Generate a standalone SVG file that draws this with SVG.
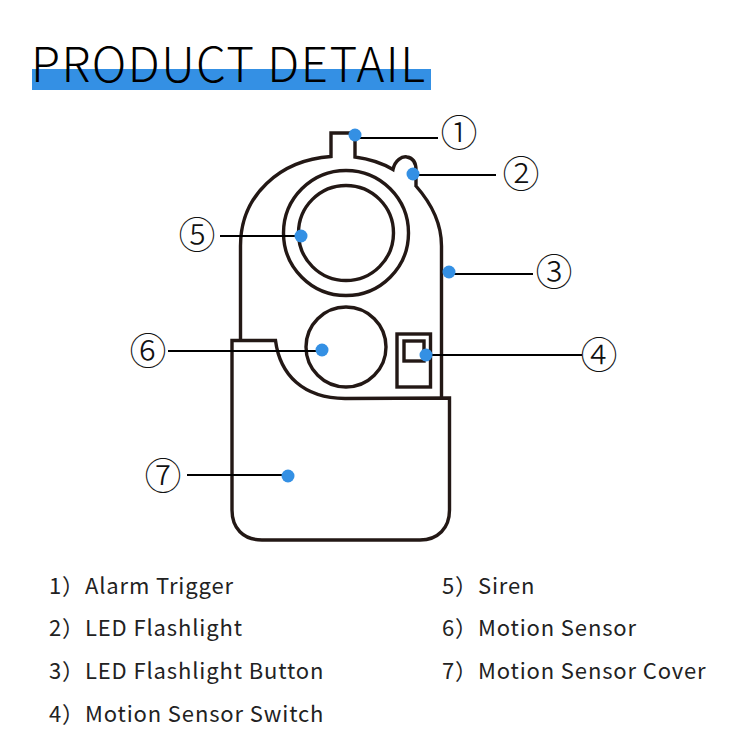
<svg xmlns="http://www.w3.org/2000/svg" width="750" height="750" viewBox="0 0 750 750">
<style>
.o{fill:none;stroke:#231815;stroke-width:3.4}
.c{fill:none;stroke:#000;stroke-width:2}
.d{fill:#3490e4}
.n{font-family:"Noto Sans CJK SC","Noto Sans",sans-serif;font-size:37px;font-weight:300;text-anchor:middle;fill:#111}
.l{font-family:"Noto Sans CJK SC","Noto Sans",sans-serif;font-size:22px;fill:#222;letter-spacing:.87px}
.t{font-family:"Noto Sans CJK SC","Noto Sans",sans-serif;font-size:47.500px;font-weight:300;fill:#000}
</style>
<rect width="750" height="750" fill="#fff"/>
<g id="title"><rect x="32" y="69" width="399" height="21" fill="#3490e4"/><text class="t" x="31" y="82" textLength="394">PRODUCT DETAIL</text></g>
<g id="body"><path class="o" d="M240.500 341V246C240.500 195 280 160 331 156.500V133H355V157C370 159 382 163 393 169.500C395 160 402 156 407 157C413 158 416 163 416 170V186C431 203 441.500 222 441.500 246V398"/></g>
<g id="siren"><circle class="o" cx="346" cy="233" r="62.500"/><circle class="o" cx="346" cy="233" r="47.500"/></g>
<g id="sensor"><circle class="o" cx="346" cy="347" r="40"/></g>
<g id="switch"><rect class="o" x="397" y="334" width="33.500" height="53"/><rect class="o" x="404" y="341" width="20" height="20"/></g>
<g id="cover"><path class="o" d="M232 340.500H275.500C280 375 303 398 345 398.500L449.500 398V510C449.500 528 438 540 420 540H262C243 540 232 528 232 510Z"/></g>
<g id="connectors">
<path class="c" d="M355 138H438M413 175H496M449 274H533M426 355H582M220 236H301M168 351H322M187 475H288"/>
<circle class="d" cx="355" cy="135" r="6.500"/><circle class="d" cx="413" cy="174" r="6.500"/><circle class="d" cx="449" cy="272" r="6.500"/><circle class="d" cx="426" cy="355" r="6.500"/><circle class="d" cx="301" cy="236" r="6.500"/><circle class="d" cx="322" cy="350" r="6.500"/><circle class="d" cx="288" cy="476" r="6.500"/>
</g>
<g id="numbers">
<text class="n" x="459" y="147">①</text><text class="n" x="521" y="188">②</text><text class="n" x="554" y="286">③</text><text class="n" x="599" y="369">④</text><text class="n" x="197" y="249">⑤</text><text class="n" x="148" y="365">⑥</text><text class="n" x="163" y="490">⑦</text>
</g>
<g id="legend">
<text class="l" x="49" y="594">1）Alarm Trigger</text>
<text class="l" x="49" y="636">2）LED Flashlight</text>
<text class="l" x="49" y="679">3）LED Flashlight Button</text>
<text class="l" x="49" y="722">4）Motion Sensor Switch</text>
<text class="l" x="442" y="594">5）Siren</text>
<text class="l" x="442" y="636">6）Motion Sensor</text>
<text class="l" x="442" y="679">7）Motion Sensor Cover</text>
</g>
</svg>
